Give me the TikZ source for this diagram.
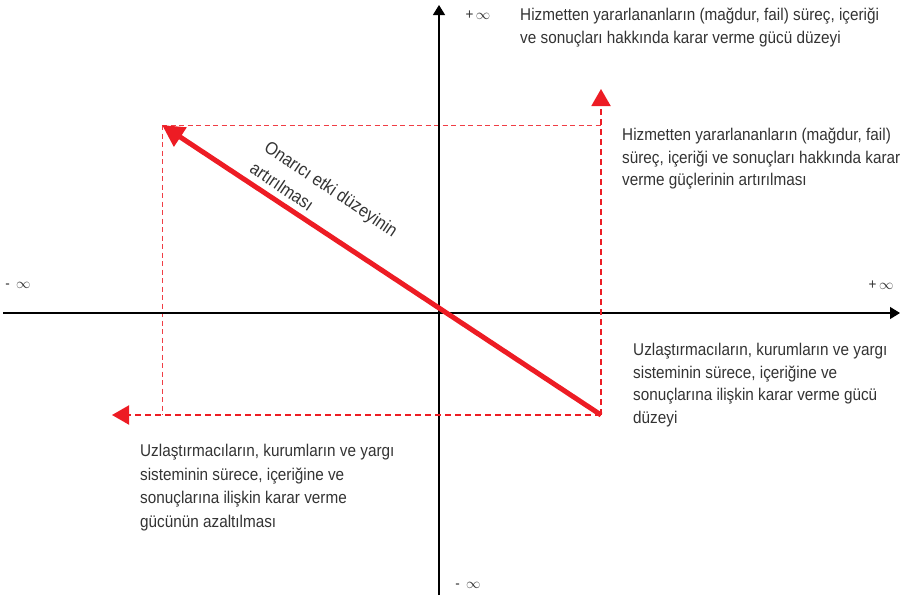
\documentclass[tikz,border=0pt]{standalone}
\usepackage{fontspec}
\setmainfont[FakeStretch=0.9]{Liberation Sans}
\usetikzlibrary{arrows.meta}
\definecolor{powerred}{RGB}{237,28,36}
\definecolor{textgray}{RGB}{51,51,51}

\begin{document}
\begin{tikzpicture}[x=1pt,y=-1pt,font=\fontsize{17}{22.5}\selectfont,text=textgray]
    \tikzstyle{axis}=[draw=black,line width=1.2pt,-{Triangle[length=10pt,width=12pt]}]
    \tikzstyle{gain}=[draw=powerred,line width=5pt,-{Triangle[length=22pt,width=22pt]}]
    \tikzstyle{push}=[draw=powerred,line width=2pt,dash pattern=on 6pt off 4pt,-{Triangle[length=17pt,width=19pt]}]
    \tikzstyle{guide}=[draw=powerred!85,line width=1pt,dash pattern=on 5pt off 3.5pt]
    \tikzstyle{inf}=[font=\fontsize{15}{15}\selectfont,inner sep=0pt]
    \tikzstyle{note}=[align=left,anchor=north west,inner sep=0pt]

    \useasboundingbox (0,0) rectangle (920,597);

    % axes
    \coordinate (xl) at (3,313);
    \coordinate (xr) at (900,313);
    \coordinate (yb) at (439,595);
    \coordinate (yt) at (439,5);
    % corners of the shift
    \coordinate (P) at (601,415);
    \coordinate (Q) at (162,125);
    \coordinate (Pup) at (601,89);
    \coordinate (Pleft) at (112,415);
    \coordinate (Qright) at (601,125);
    \coordinate (Qdown) at (162,415);

    \draw[guide] (Q) -- (Qright);
    \draw[guide] (Q) -- (Qdown);
    \draw[axis] (xl) -- (xr);
    \draw[axis] (yb) -- (yt);
    \draw[push] (P) -- (Pup);
    \draw[push] (P) -- (Pleft);
    \draw[gain] (P) -- (Q);

    \node[inf] (inftop) at (478,15) {+\,$\infty$};
    \node[inf] (infleft) at (18,285) {- \,$\infty$};
    \node[inf] (infright) at (881,285) {+\,$\infty$};
    \node[inf] (infbottom) at (468,585) {- \,$\infty$};

    \node[note] (victimlevel) at (520,8)
        {Hizmetten yararlananların (mağdur, fail) süreç, içeriği\\
         ve sonuçları hakkında karar verme gücü düzeyi};
    \node[note] (victimup) at (622,128)
        {Hizmetten yararlananların (mağdur, fail)\\
         süreç, içeriği ve sonuçları hakkında karar\\
         verme güçlerinin artırılması};
    \node[note] (systemlevel) at (633,343)
        {Uzlaştırmacıların, kurumların ve yargı\\
         sisteminin sürece, içeriğine ve\\
         sonuçlarına ilişkin karar verme gücü\\
         düzeyi};
    \node[note,font=\fontsize{17}{23.7}\selectfont] (systemdown) at (140,444)
        {Uzlaştırmacıların, kurumların ve yargı\\
         sisteminin sürece, içeriğine ve\\
         sonuçlarına ilişkin karar verme\\
         gücünün azaltılması};
    \node[align=left,rotate=-34,inner sep=0pt,font=\fontsize{18}{26}\selectfont] (repair) at (324,199)
        {Onarıcı etki düzeyinin\\artırılması};

\end{tikzpicture}
\end{document}
